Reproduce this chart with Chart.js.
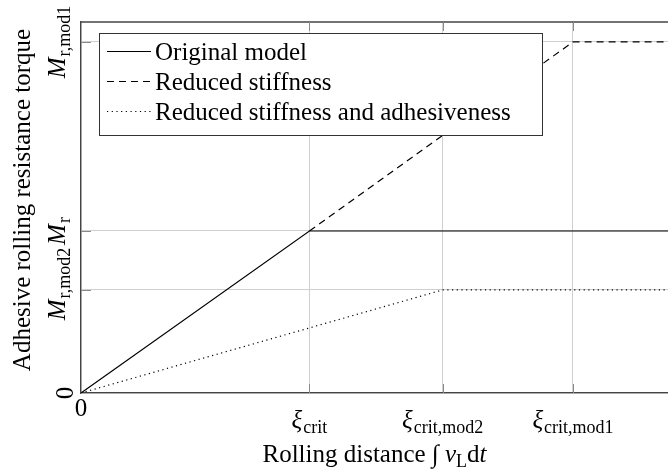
<!DOCTYPE html>
<html>
<head>
<meta charset="utf-8">
<script src="https://cdn.jsdelivr.net/npm/chart.js@4.4.1/dist/chart.umd.min.js"></script>
<style>
    html, body { margin: 0; padding: 0; background: #fff; overflow: hidden; }
    #chart { display: block; }
</style>
</head>
<body>
<canvas id="chart" width="668" height="470"></canvas>
<script>
// rolling distance in units of xi_crit, torque in units of M_r
const seriesNames = ['Original model', 'Reduced stiffness', 'Reduced stiffness and adhesiveness'];
const originalX = [0, 1, 2.57];
const originalY = [0, 1, 1];
// below xi_crit this curve lies under the original one
const stiffX = [1, 2.154, 2.57];
const stiffY = [1, 2.167, 2.167];
const adhesiveX = [0, 1.583, 2.57];
const adhesiveY = [0, 0.636, 0.636];

const xTickValues = [0, 1, 1.583, 2.154];
const xTickLabels = [['0', ''], ['\u03BE', 'crit'], ['\u03BE', 'crit,mod2'], ['\u03BE', 'crit,mod1']];
const yTickValues = [0, 0.636, 1, 2.167];
const yTickLabels = [['0', ''], ['M', 'r,mod2'], ['M', 'r'], ['M', 'r,mod1']];

const xMax = 2.57;
const yMax = 2.29;

const SERIF = '"Liberation Serif", "DejaVu Serif", serif';
const MAIN_FONT = '25px ' + SERIF;
const ITALIC_FONT = 'italic 25px ' + SERIF;
const SUB_FONT = '18px ' + SERIF;

function toPoints(xs, ys) {
    return xs.map((x, i) => ({ x: x, y: ys[i] }));
}

// draws symbol + subscript, centred on cx, baseline at y
function drawMathLabel(ctx, cx, y, main, sub) {
    const mainFont = /[0-9]/.test(main) ? MAIN_FONT : ITALIC_FONT;
    ctx.font = mainFont;
    const wMain = ctx.measureText(main).width;
    ctx.font = SUB_FONT;
    const wSub = sub ? ctx.measureText(sub).width + 1 : 0;
    let x = cx - (wMain + wSub) / 2;
    ctx.font = mainFont;
    ctx.fillText(main, x, y);
    if (sub) {
        ctx.font = SUB_FONT;
        ctx.fillText(sub, x + wMain + 1, y + 5);
    }
}

const axisDecor = {
    id: 'axisDecor',
    afterDraw(chart) {
        const ctx = chart.ctx;
        const area = chart.chartArea;
        const xs = chart.scales.x;
        const ys = chart.scales.y;
        ctx.save();

        // top frame line
        ctx.strokeStyle = '#444';
        ctx.lineWidth = 1.3;
        ctx.beginPath();
        ctx.moveTo(area.left, area.top);
        ctx.lineTo(area.right + 2, area.top);
        ctx.stroke();

        // inward tick marks
        ctx.strokeStyle = '#8a8a8a';
        ctx.lineWidth = 1;
        xTickValues.forEach(v => {
            const px = Math.round(xs.getPixelForValue(v)) + 0.5;
            if (v === 0) return;
            ctx.beginPath();
            ctx.moveTo(px, area.bottom);
            ctx.lineTo(px, area.bottom - 9);
            ctx.moveTo(px, area.top);
            ctx.lineTo(px, area.top + 9);
            ctx.stroke();
        });
        yTickValues.forEach(v => {
            const py = Math.round(ys.getPixelForValue(v)) + 0.5;
            if (v === 0) return;
            ctx.beginPath();
            ctx.moveTo(area.left, py);
            ctx.lineTo(area.left + 10, py);
            ctx.stroke();
        });

        ctx.fillStyle = '#000';
        ctx.textBaseline = 'alphabetic';
        ctx.textAlign = 'left';

        // x tick labels
        xTickValues.forEach((v, i) => {
            const px = xs.getPixelForValue(v);
            const lab = xTickLabels[i];
            drawMathLabel(ctx, px, lab[1] ? 428 : 416, lab[0], lab[1]);
        });

        // y tick labels, rotated (mod2 label sits a little higher, as in the original)
        yTickValues.forEach((v, i) => {
            const lab = yTickLabels[i];
            const py = ys.getPixelForValue(v) - (lab[1] === 'r,mod2' ? 6 : 0);
            ctx.save();
            ctx.translate(lab[1] ? 65 : 73, py);
            ctx.rotate(-Math.PI / 2);
            drawMathLabel(ctx, 0, 0, lab[0], lab[1]);
            ctx.restore();
        });

        // y axis title
        ctx.save();
        ctx.font = MAIN_FONT;
        ctx.textAlign = 'center';
        ctx.translate(30, 200);
        ctx.rotate(-Math.PI / 2);
        ctx.fillText('Adhesive rolling resistance torque', 0, 0);
        ctx.restore();

        // x axis title: Rolling distance \int v_L dt
        const parts = [
            { t: 'Rolling distance ', f: MAIN_FONT, dy: 0 },
            { t: '\u222B', f: MAIN_FONT, dy: 0 },
            { t: ' ', f: MAIN_FONT, dy: 0 },
            { t: 'v', f: ITALIC_FONT, dy: 0 },
            { t: 'L', f: SUB_FONT, dy: 5 },
            { t: 'd', f: MAIN_FONT, dy: 0 },
            { t: 't', f: ITALIC_FONT, dy: 0 }
        ];
        let total = 0;
        parts.forEach(p => { ctx.font = p.f; p.w = ctx.measureText(p.t).width; total += p.w; });
        let x = (area.left + area.right) / 2 - total / 2;
        parts.forEach(p => {
            ctx.font = p.f;
            ctx.fillText(p.t, x, 462 + p.dy);
            x += p.w;
        });

        ctx.restore();
    }
};

const boxLegend = {
    id: 'boxLegend',
    afterDatasetsDraw(chart) {
        const ctx = chart.ctx;
        const box = { left: 99, top: 33, right: 542, bottom: 135 };
        const baselines = [60, 90, 120];
        ctx.save();
        ctx.fillStyle = '#fff';
        ctx.fillRect(box.left, box.top, box.right - box.left, box.bottom - box.top);
        ctx.strokeStyle = '#333';
        ctx.lineWidth = 1;
        ctx.strokeRect(box.left + 0.5, box.top + 0.5, box.right - box.left, box.bottom - box.top);

        chart.data.datasets.forEach((ds, i) => {
            const y = baselines[i] - 8.5;
            ctx.strokeStyle = ds.borderColor;
            ctx.lineWidth = ds.borderWidth;
            ctx.setLineDash(ds.borderDash || []);
            ctx.beginPath();
            ctx.moveTo(107, y);
            ctx.lineTo(151, y);
            ctx.stroke();
            ctx.setLineDash([]);
            ctx.fillStyle = '#000';
            ctx.font = MAIN_FONT;
            ctx.textBaseline = 'alphabetic';
            ctx.fillText(ds.label, 155, baselines[i]);
        });
        ctx.restore();
    }
};

function fixedTicks(values) {
    return function (scale) {
        scale.ticks = values.map(v => ({ value: v }));
    };
}

new Chart(document.getElementById('chart'), {
    type: 'line',
    data: {
        datasets: [
            {
                label: seriesNames[0],
                data: toPoints(originalX, originalY),
                borderColor: '#000',
                borderWidth: 1.2,
                borderDash: []
            },
            {
                label: seriesNames[1],
                data: toPoints(stiffX, stiffY),
                borderColor: '#000',
                borderWidth: 1.2,
                borderDash: [7, 5]
            },
            {
                label: seriesNames[2],
                data: toPoints(adhesiveX, adhesiveY),
                borderColor: '#000',
                borderWidth: 1.2,
                borderDash: [1.2, 3.5]
            }
        ]
    },
    options: {
        responsive: false,
        animation: false,
        devicePixelRatio: 1,
        layout: { padding: { left: 81, top: 22, right: 0, bottom: 77 } },
        elements: {
            point: { radius: 0, hoverRadius: 0 },
            line: { tension: 0 }
        },
        scales: {
            x: {
                type: 'linear',
                min: 0,
                max: xMax,
                afterBuildTicks: fixedTicks(xTickValues),
                ticks: { display: false },
                grid: { color: '#cfcfcf', lineWidth: 1, drawTicks: false },
                border: { display: true, color: '#444', width: 1.3 }
            },
            y: {
                type: 'linear',
                min: 0,
                max: yMax,
                afterBuildTicks: fixedTicks(yTickValues),
                ticks: { display: false },
                grid: { color: '#cfcfcf', lineWidth: 1, drawTicks: false },
                border: { display: true, color: '#444', width: 1.3 }
            }
        },
        plugins: {
            legend: { display: false },
            tooltip: { enabled: false }
        }
    },
    plugins: [boxLegend, axisDecor]
});
</script>
</body>
</html>
